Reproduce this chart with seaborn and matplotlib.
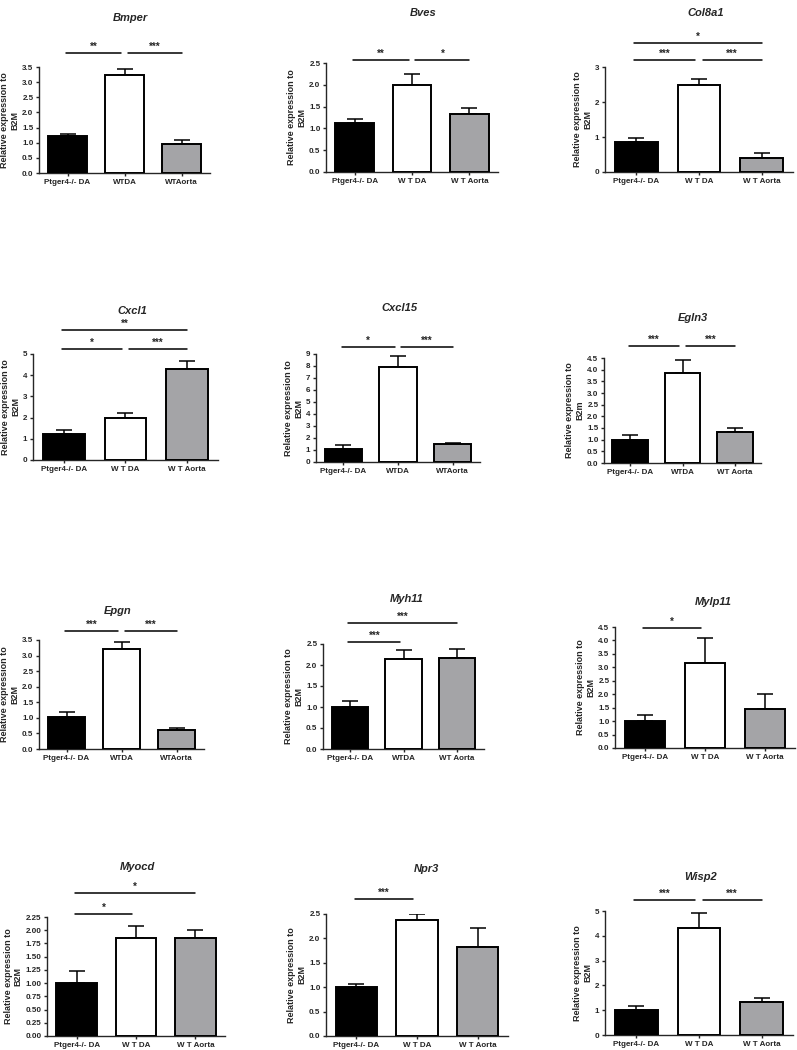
import matplotlib
matplotlib.use('Agg')
import matplotlib.pyplot as plt
import numpy as np
import pandas as pd
import seaborn as sns

# ---- data ----
genes = ['Bmper', 'Bves', 'Col8a1', 'Cxcl1', 'Cxcl15', 'Egln3',
         'Epgn', 'Myh11', 'Mylp11', 'Myocd', 'Npr3', 'Wisp2']

means = [[1.22, 3.22, 0.95],
         [1.12, 2.00, 1.33],
         [0.85, 2.50, 0.40],
         [1.25, 2.00, 4.27],
         [1.05, 7.95, 1.48],
         [1.00, 3.85, 1.32],
         [1.02, 3.22, 0.60],
         [1.00, 2.15, 2.17],
         [1.00, 3.15, 1.45],
         [1.00, 1.85, 1.85],
         [1.00, 2.37, 1.82],
         [1.00, 4.30, 1.32]]

errors = [[0.08, 0.23, 0.13],
          [0.10, 0.25, 0.13],
          [0.13, 0.16, 0.13],
          [0.17, 0.20, 0.40],
          [0.35, 0.85, 0.07],
          [0.20, 0.55, 0.20],
          [0.18, 0.20, 0.07],
          [0.15, 0.20, 0.20],
          [0.23, 0.95, 0.57],
          [0.22, 0.23, 0.16],
          [0.07, 0.13, 0.40],
          [0.15, 0.62, 0.17]]

lab_a = ['Ptger4-/- DA', 'WTDA', 'WTAorta']
lab_b = ['Ptger4-/- DA', 'W T DA', 'W T Aorta']
lab_c = ['Ptger4-/- DA', 'WTDA', 'WT Aorta']
tick_labels = [lab_a, lab_b, lab_b, lab_b, lab_a, lab_c,
               lab_a, lab_c, lab_b, lab_b, lab_b, lab_b]

y_max = [3.5, 2.5, 3, 5, 9, 4.5, 3.5, 2.5, 4.5, 2.25, 2.5, 5]
y_step = [0.5, 0.5, 1, 1, 1, 0.5, 0.5, 0.5, 0.5, 0.25, 0.5, 1]
y_fmt = ['%.1f', '%.1f', '%d', '%d', '%d', '%.1f',
         '%.1f', '%.1f', '%.1f', '%.2f', '%.1f', '%d']
y_units = ['B2M'] * 5 + ['B2m'] + ['B2M'] * 6

# significance: (group i, group j, stars, row)
sig = [[(0, 1, '**', 0), (1, 2, '***', 0)],
       [(0, 1, '**', 0), (1, 2, '*', 0)],
       [(0, 1, '***', 0), (1, 2, '***', 0), (0, 2, '*', 1)],
       [(0, 1, '*', 0), (1, 2, '***', 0), (0, 2, '**', 1)],
       [(0, 1, '*', 0), (1, 2, '***', 0)],
       [(0, 1, '***', 0), (1, 2, '***', 0)],
       [(0, 1, '***', 0), (1, 2, '***', 0)],
       [(0, 1, '***', 0), (0, 2, '***', 1)],
       [(0, 1, '*', 0)],
       [(0, 1, '*', 0), (0, 2, '*', 1)],
       [(0, 1, '***', 0)],
       [(0, 1, '***', 0), (1, 2, '***', 0)]]

# ---- layout in pixels: left, right, top (ymax), bottom (zero) ----
W, H = 797, 1050
boxes = [(39, 210, 67, 173), (326, 498, 63, 172), (605, 793, 67, 172),
         (33, 218, 354, 460), (316, 480, 354, 462), (604, 761, 358, 463),
         (39, 204, 640, 749), (323, 484, 644, 749), (615, 795, 627, 748),
         (47, 225, 917, 1036), (326, 508, 914, 1036), (605, 793, 911, 1035)]
title_pos = [(130, 18), (423, 13), (706, 13), (132, 311), (400, 308), (693, 318),
             (118, 611), (407, 599), (713, 602), (137, 867), (426, 869), (701, 877)]
sig_px = [(14, 0), (3, 0), (7, 24), (5, 24), (7, 0), (12, 0),
          (9, 0), (2, 21), (-1, 0), (3, 24), (15, 0), (11, 0)]

colors = ['#000000', '#ffffff', '#a4a4a7']

sns.set_style('ticks')
plt.rcParams['font.family'] = ['Liberation Sans', 'DejaVu Sans']
plt.rcParams['font.weight'] = 'bold'

fig = plt.figure(figsize=(W / 100, H / 100), dpi=100)

for k, gene in enumerate(genes):
    left, right, top, bottom = boxes[k]
    ax = fig.add_axes([left / W, 1 - bottom / H, (right - left) / W, (bottom - top) / H])
    df = pd.DataFrame({'group': tick_labels[k], 'value': means[k]})
    sns.barplot(data=df, x='group', y='value', hue='group', palette=colors,
                edgecolor='black', linewidth=1.4, width=0.68, errorbar=None,
                legend=False, ax=ax, zorder=3)
    ax.errorbar(np.arange(3), means[k], yerr=[np.zeros(3), errors[k]], fmt='none',
                ecolor='black', elinewidth=1.1, capsize=5.5, capthick=1.1, zorder=2)

    ax.set_xlim(-0.5, 2.5)
    ax.set_ylim(0, y_max[k])
    ticks = np.arange(0, y_max[k] + 1e-9, y_step[k])
    ax.set_yticks(ticks)
    ax.set_yticklabels([y_fmt[k] % t for t in ticks])
    ax.set_xticks(range(3))
    ax.set_xticklabels(tick_labels[k])
    ax.tick_params(axis='both', labelsize=5.8, width=1.0, length=2.5, pad=1.5)
    for t in ax.get_xticklabels() + ax.get_yticklabels():
        t.set_fontweight('bold')
    ax.set_xlabel('')
    ax.set_ylabel('Relative expression to\n' + y_units[k], fontsize=6.5,
                  fontweight='bold', labelpad=2, linespacing=1.1)
    sns.despine(ax=ax)
    for s in ['left', 'bottom']:
        ax.spines[s].set_linewidth(1.0)

    # title
    tx, ty = title_pos[k]
    fig.text(tx / W, 1 - ty / H, gene, fontsize=8, fontweight='bold',
             fontstyle='italic', ha='center', va='center')

    # significance lines
    hpx = bottom - top
    for i, j, stars, row in sig[k]:
        off = sig_px[k][row]
        yline = 1 + off / hpx
        x0 = i + 0.06 if i > 0 else i - 0.03
        x1 = j - 0.06 if j == 1 else j
        ax.plot([x0, x1], [yline, yline], color='black', lw=1.1,
                transform=ax.get_xaxis_transform(), clip_on=False)
        ax.annotate(stars, xy=((x0 + x1) / 2, yline), xycoords=ax.get_xaxis_transform(),
                    xytext=(0, 0.5), textcoords='offset points', ha='center',
                    va='bottom', fontsize=7, annotation_clip=False)

fig.savefig('out.png', dpi=100, facecolor='white')
